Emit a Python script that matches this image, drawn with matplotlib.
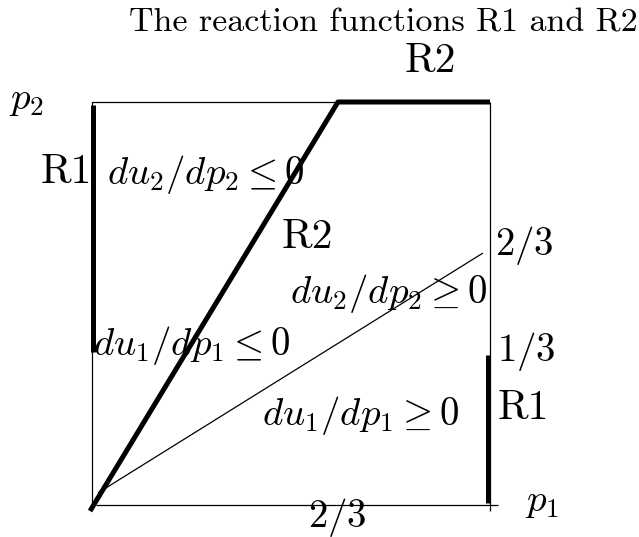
import matplotlib
matplotlib.use("Agg")
import matplotlib.pyplot as plt

plt.rcParams["mathtext.fontset"] = "cm"
plt.rcParams["font.family"] = ["cmr10", "DejaVu Serif"]
plt.rcParams["axes.formatter.use_mathtext"] = True

# Price space (p1, p2), unit square schematic
box_x = [0.0, 0.0, 0.618]
box_y = [0.0, 1.0, 1.0]
bottom_x = [0.01, 1.02]
bottom_y = [0.0, 0.0]
right_x = [1.0, 1.0]
right_y = [1.0, -0.015]

# Reaction function of firm 2: rising segment then flat at the top
r2_x = [-0.005, 0.618, 1.0]
r2_y = [-0.015, 1.0, 1.0]

# Reaction function of firm 1: vertical pieces on the two sides
r1_left_x = [0.003, 0.003]
r1_left_y = [0.38, 0.993]
r1_right_x = [0.995, 0.995]
r1_right_y = [0.005, 0.372]

# Boundary line between the du/dp regions
div_x = [0.015, 0.982]
div_y = [0.03, 0.625]

fig = plt.figure(figsize=(6.39, 5.37), dpi=100)
ax = fig.add_axes([92 / 639, 32 / 537, 398 / 639, 403 / 537])
ax.set_xlim(0, 1)
ax.set_ylim(0, 1)
ax.axis("off")

thin = dict(color="black", lw=0.9, clip_on=False, solid_capstyle="butt")
thick = dict(color="black", lw=3.6, clip_on=False, solid_capstyle="butt")

ax.plot(box_x, box_y, **thin)
ax.plot(bottom_x, bottom_y, **thin)
ax.plot(right_x, right_y, **thin)
ax.plot(div_x, div_y, **thin)
ax.plot(r2_x, r2_y, **thick)
ax.plot(r1_left_x, r1_left_y, **thick)
ax.plot(r1_right_x, r1_right_y, **thick)

fs_math = 28
fs_name = 30
labels = [
    (-0.165, 1.005, r"$p_2$", "center", fs_math),
    (0.849, 1.10, "R2", "center", fs_name),
    (0.0, 0.825, "R1", "right", fs_name),
    (0.038, 0.819, r"$du_2/dp_2 \leq 0$", "left", fs_math),
    (0.540, 0.665, "R2", "center", fs_name),
    (1.013, 0.645, r"$2/3$", "left", fs_math),
    (0.497, 0.526, r"$du_2/dp_2 \geq 0$", "left", fs_math),
    (0.0025, 0.397, r"$du_1/dp_1 \leq 0$", "left", fs_math),
    (1.018, 0.380, r"$1/3$", "left", fs_math),
    (1.018, 0.241, "R1", "left", fs_name),
    (0.427, 0.221, r"$du_1/dp_1 \geq 0$", "left", fs_math),
    (1.088, 0.007, r"$p_1$", "left", fs_math),
    (0.616, -0.030, r"$2/3$", "center", fs_math),
]
for x, y, s, ha, fs in labels:
    ax.text(x, y, s, fontsize=fs, ha=ha, va="center", clip_on=False)

fig.text(638 / 639, 1 - 23 / 537, "The reaction functions R1 and R2",
         fontsize=24.5, ha="right", va="center")

fig.savefig("out.png", dpi=100, facecolor="white")
